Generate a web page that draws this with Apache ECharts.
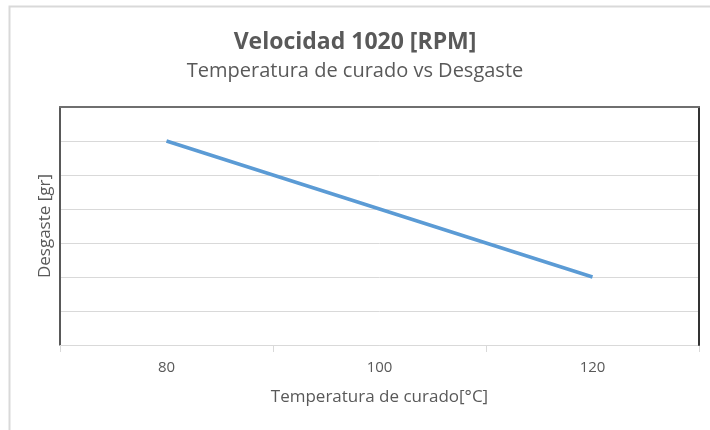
<!DOCTYPE html>
<html>
<head>
<meta charset="utf-8">
<script src="https://cdn.jsdelivr.net/npm/echarts@6/dist/echarts.min.js"></script>
<style>html,body{margin:0;padding:0;background:#fff}#c{width:710px;height:430px}</style>
</head>
<body>
<div id="c"></div>
<script>
const categories = ['80', '100', '120'];
const desgaste = [6, 4, 2];
const yTicks = [0, 1, 2, 3, 4, 5, 6, 7];

const chart = echarts.init(document.getElementById('c'), null, {renderer: 'canvas'});
const font = '"Open Sans", "Noto Sans", sans-serif';
chart.setOption({
  animation: false,
  backgroundColor: '#fff',
  title: {
    text: 'Velocidad 1020 [RPM]',
    subtext: 'Temperatura de curado vs Desgaste',
    left: 'center',
    top: 26,
    itemGap: 7,
    textStyle: {fontFamily: font, fontSize: 23, fontWeight: 'bold', color: '#595959'},
    subtextStyle: {fontFamily: font, fontSize: 20, color: '#595959'}
  },
  graphic: [{
    type: 'rect', left: 7, top: 4, silent: true,
    shape: {width: 720, height: 440},
    style: {fill: 'none', stroke: '#d9d9d9', lineWidth: 2}
  }],
  grid: {left: 60, right: 11, top: 107, bottom: 85},
  xAxis: [{
    type: 'category',
    data: categories,
    boundaryGap: true,
    name: 'Temperatura de curado[°C]',
    nameLocation: 'middle',
    nameGap: 44,
    nameTextStyle: {fontFamily: font, fontSize: 17, color: '#595959'},
    axisLine: {onZero: false, lineStyle: {color: '#d9d9d9', width: 1}},
    axisTick: {show: true, length: 7, lineStyle: {color: '#d9d9d9'}},
    axisLabel: {fontFamily: font, fontSize: 15, color: '#595959', margin: 15}
  }, {
    type: 'category',
    data: categories,
    position: 'top',
    z: 10,
    axisLine: {show: true, onZero: false, lineStyle: {color: '#6f6f6f', width: 2}},
    axisTick: {show: false},
    axisLabel: {show: false},
    splitLine: {show: false}
  }],
  yAxis: [{
    type: 'value',
    min: yTicks[0],
    max: yTicks[yTicks.length - 1],
    interval: 1,
    name: 'Desgaste [gr]',
    nameLocation: 'middle',
    nameGap: 6,
    nameTextStyle: {fontFamily: font, fontSize: 17, color: '#595959'},
    axisLine: {show: true, onZero: false, lineStyle: {color: '#595959', width: 2}},
    axisTick: {show: false},
    axisLabel: {show: false},
    splitLine: {lineStyle: {color: '#d9d9d9', width: 1}}
  }, {
    type: 'value',
    position: 'right',
    min: yTicks[0],
    max: yTicks[yTicks.length - 1],
    interval: 1,
    z: 10,
    axisLine: {show: true, onZero: false, lineStyle: {color: '#333333', width: 2}},
    axisTick: {show: false},
    axisLabel: {show: false},
    splitLine: {show: false}
  }],
  series: [{
    type: 'line',
    data: desgaste,
    symbol: 'none',
    lineStyle: {color: '#5b9bd5', width: 3.5}
  }]
});
</script>
</body>
</html>
